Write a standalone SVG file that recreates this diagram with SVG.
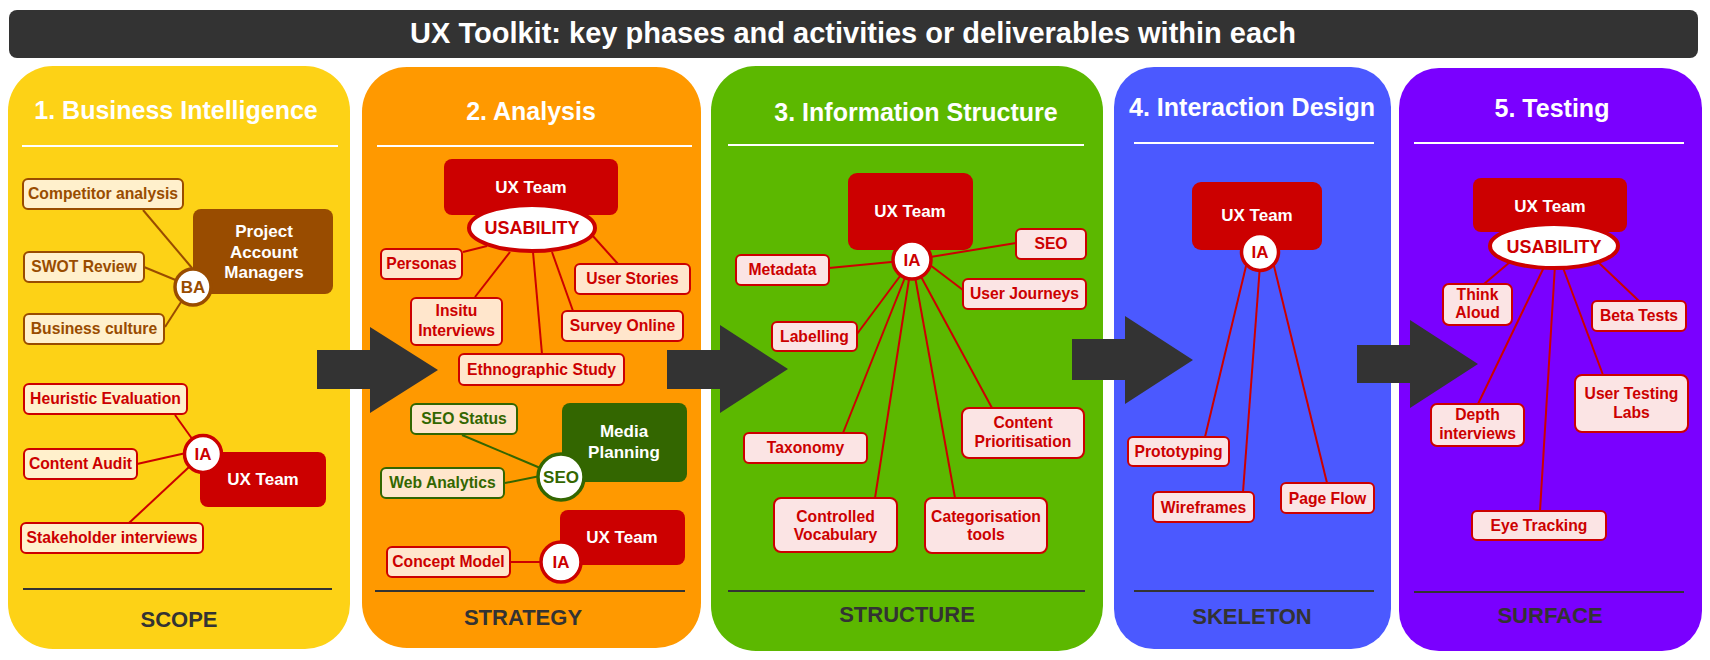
<svg xmlns="http://www.w3.org/2000/svg" width="1710" height="660" viewBox="0 0 1710 660">
<style>
text{font-family:"Liberation Sans",Arial,sans-serif;font-weight:bold;text-anchor:middle}
.ttl{fill:#fff;font-size:25px}
.foot{fill:#333;font-size:22px}
.sepw{stroke:#fff;stroke-width:2}
.sepd{stroke:#333;stroke-width:2}
.bx{font-size:15.7px}
.rb{fill:#FFF0CC;stroke:#CC0000;stroke-width:2}
.rbo{fill:#FFE6CC;stroke:#CC0000;stroke-width:2}
.rbp{fill:#FBE4E4;stroke:#CC0000;stroke-width:2}
.bb{fill:#FFF0CC;stroke:#994C00;stroke-width:2}
.gb{fill:#FFE6CC;stroke:#336600;stroke-width:2}
.rt{fill:#CC0000}
.bt{fill:#994C00}
.gt{fill:#336600}
.team{fill:#CC0000}
.wt{fill:#fff;font-size:17px}
.circ{fill:#fff;stroke-width:3.5}
.cr{stroke:#CC0000}
.cb{stroke:#994C00}
.cg{stroke:#336600}
.ln{stroke-width:2;fill:none}
.big{fill:#333}
</style>
<rect x="9" y="10" width="1689" height="48" rx="8" fill="#333"/>
<text x="853" y="43" style="fill:#fff;font-size:29px">UX Toolkit: key phases and activities or deliverables within each</text>

<g id="panel1">
<rect x="8" y="66" width="342" height="583" rx="45" fill="#FDD216"/>
<text class="ttl" x="176" y="119">1. Business Intelligence</text>
<line class="sepw" x1="22" y1="146" x2="338" y2="146"/>
<line class="sepd" x1="23" y1="589" x2="332" y2="589"/>
<text class="foot" x="179" y="627">SCOPE</text>
</g>
<g id="panel2">
<rect x="362" y="67" width="339" height="581" rx="45" fill="#FF9900"/>
<text class="ttl" x="531" y="120">2. Analysis</text>
<line class="sepw" x1="377" y1="146" x2="692" y2="146"/>
<line class="sepd" x1="375" y1="591" x2="685" y2="591"/>
<text class="foot" x="523" y="625">STRATEGY</text>
</g>
<g id="panel3">
<rect x="711" y="66" width="392" height="585" rx="45" fill="#5CB800"/>
<text class="ttl" x="916" y="121">3. Information Structure</text>
<line class="sepw" x1="728" y1="145" x2="1084" y2="145"/>
<line class="sepd" x1="728" y1="591" x2="1085" y2="591"/>
<text class="foot" x="907" y="622">STRUCTURE</text>
</g>
<g id="panel4">
<rect x="1114" y="67" width="277" height="582" rx="40" fill="#4B59FF"/>
<text class="ttl" x="1252" y="116">4. Interaction Design</text>
<line class="sepw" x1="1134" y1="143" x2="1374" y2="143"/>
<line class="sepd" x1="1134" y1="591" x2="1374" y2="591"/>
<text class="foot" x="1252" y="624">SKELETON</text>
</g>
<g id="panel5">
<rect x="1399" y="68" width="303" height="583" rx="40" fill="#7A00FF"/>
<text class="ttl" x="1552" y="117">5. Testing</text>
<line class="sepw" x1="1414" y1="143" x2="1684" y2="143"/>
<line class="sepd" x1="1414" y1="592" x2="1684" y2="592"/>
<text class="foot" x="1550" y="623">SURFACE</text>
</g>

<g id="phase-arrows">
<polygon class="big" points="317,350 370,350 370,327 438,370 370,413 370,389 317,389"/>
<polygon class="big" points="667,350 720,350 720,325 788,369 720,413 720,389 667,389"/>
<polygon class="big" points="1072,339 1125,339 1125,316 1193,360 1125,404 1125,380 1072,380"/>
<polygon class="big" points="1357,345 1410,345 1410,320 1478,364 1410,408 1410,383 1357,383"/>
</g>

<g id="connectors">
<g class="ln cb">
<line x1="143" y1="210" x2="192" y2="268"/>
<line x1="144" y1="267" x2="178" y2="281"/>
<line x1="165" y1="327" x2="183" y2="299"/>
</g>
<g class="ln cr">
<line x1="175" y1="415" x2="203" y2="454"/>
<line x1="137" y1="464" x2="186" y2="453"/>
<line x1="129" y1="523" x2="203" y2="454"/>
<line x1="463" y1="252" x2="487" y2="246"/>
<line x1="618" y1="264" x2="592" y2="235"/>
<line x1="475" y1="297" x2="510" y2="252"/>
<line x1="542" y1="354" x2="533" y2="252"/>
<line x1="573" y1="311" x2="552" y2="252"/>
<line x1="510" y1="562" x2="545" y2="562"/>
<line x1="829" y1="268" x2="912" y2="260"/>
<line x1="1016" y1="243" x2="912" y2="260"/>
<line x1="963" y1="290" x2="930" y2="265"/>
<line x1="857" y1="334" x2="912" y2="260"/>
<line x1="843" y1="433" x2="912" y2="260"/>
<line x1="875" y1="498" x2="912" y2="260"/>
<line x1="955" y1="498" x2="912" y2="260"/>
<line x1="992" y1="408" x2="912" y2="260"/>
<line x1="1205" y1="437" x2="1247" y2="262"/>
<line x1="1243" y1="492" x2="1260" y2="265"/>
<line x1="1327" y1="483" x2="1273" y2="262"/>
<line x1="1484" y1="284" x2="1510" y2="262"/>
<line x1="1639" y1="301" x2="1598" y2="262"/>
<line x1="1603" y1="375" x2="1562" y2="265"/>
<line x1="1478" y1="404" x2="1545" y2="265"/>
<line x1="1540" y1="511" x2="1555" y2="265"/>
</g>
<g class="ln cg">
<line x1="462" y1="435" x2="545" y2="470"/>
<line x1="505" y1="483" x2="545" y2="475"/>
</g>
</g>

<!-- Panel 1 nodes -->
<g id="p1-competitor"><rect class="bb" x="23" y="179" width="160" height="30" rx="5"/><text class="bx bt" x="103" y="199">Competitor analysis</text></g>
<g id="p1-swot"><rect class="bb" x="24" y="252" width="120" height="30" rx="5"/><text class="bx bt" x="84" y="272">SWOT Review</text></g>
<g id="p1-culture"><rect class="bb" x="24" y="314" width="140" height="30" rx="5"/><text class="bx bt" x="94" y="334">Business culture</text></g>
<g id="p1-pam"><rect x="193" y="209" width="140" height="85" rx="8" fill="#994C00"/><text class="wt" x="264" y="237">Project</text><text class="wt" x="264" y="258">Account</text><text class="wt" x="264" y="278">Managers</text></g>
<g id="p1-ba"><circle class="circ cb" cx="193" cy="287" r="18"/><text class="bt" x="193" y="293" style="font-size:17px">BA</text></g>
<g id="p1-heuristic"><rect class="rb" x="24" y="384" width="163" height="30" rx="5"/><text class="bx rt" x="105.5" y="404">Heuristic Evaluation</text></g>
<g id="p1-audit"><rect class="rb" x="24" y="449" width="113" height="30" rx="5"/><text class="bx rt" x="80.5" y="469">Content Audit</text></g>
<g id="p1-stakeholder"><rect class="rb" x="21" y="523" width="182" height="30" rx="5"/><text class="bx rt" x="112" y="543">Stakeholder interviews</text></g>
<g id="p1-uxteam"><rect class="team" x="200" y="452" width="126" height="55" rx="8"/><text class="wt" x="263" y="485">UX Team</text></g>
<g id="p1-ia"><circle class="circ cr" cx="203" cy="454" r="18.5"/><text class="rt" x="203" y="460" style="font-size:17px">IA</text></g>

<!-- Panel 2 nodes -->
<g id="p2-uxteam"><rect class="team" x="444" y="159" width="174" height="56" rx="8"/><text class="wt" x="531" y="193">UX Team</text></g>
<g id="p2-usability"><ellipse cx="532" cy="228" rx="63" ry="23" fill="#fff" stroke="#CC0000" stroke-width="4"/><text class="rt" x="532" y="234" style="font-size:18px">USABILITY</text></g>
<g id="p2-personas"><rect class="rbo" x="381" y="249" width="81" height="30" rx="5"/><text class="bx rt" x="421.5" y="269">Personas</text></g>
<g id="p2-stories"><rect class="rbo" x="575" y="264" width="115" height="30" rx="5"/><text class="bx rt" x="632.5" y="284">User Stories</text></g>
<g id="p2-insitu"><rect class="rbo" x="411" y="298" width="91" height="47" rx="5"/><text class="bx rt" x="456.5" y="316">Insitu</text><text class="bx rt" x="456.5" y="336">Interviews</text></g>
<g id="p2-survey"><rect class="rbo" x="562" y="311" width="121" height="30" rx="5"/><text class="bx rt" x="622.5" y="331">Survey Online</text></g>
<g id="p2-ethno"><rect class="rbo" x="459" y="354" width="165" height="31" rx="5"/><text class="bx rt" x="541.5" y="375">Ethnographic Study</text></g>
<g id="p2-seostatus"><rect class="gb" x="411" y="404" width="106" height="30" rx="5"/><text class="bx gt" x="464" y="424">SEO Status</text></g>
<g id="p2-webanalytics"><rect class="gb" x="381" y="468" width="123" height="30" rx="5"/><text class="bx gt" x="442.5" y="488">Web Analytics</text></g>
<g id="p2-media"><rect x="562" y="403" width="125" height="79" rx="8" fill="#336600"/><text class="wt" x="624" y="437">Media</text><text class="wt" x="624" y="458">Planning</text></g>
<g id="p2-seo"><circle class="circ cg" cx="561" cy="477" r="23" stroke-width="4"/><text class="gt" x="561" y="483" style="font-size:17px">SEO</text></g>
<g id="p2-concept"><rect class="rbo" x="387" y="547" width="123" height="30" rx="5"/><text class="bx rt" x="448.5" y="567">Concept Model</text></g>
<g id="p2-uxteam2"><rect class="team" x="560" y="510" width="125" height="55" rx="8"/><text class="wt" x="622" y="543">UX Team</text></g>
<g id="p2-ia"><circle class="circ cr" cx="561" cy="562" r="20"/><text class="rt" x="561" y="568" style="font-size:17px">IA</text></g>

<!-- Panel 3 nodes -->
<g id="p3-uxteam"><rect class="team" x="848" y="173" width="125" height="77" rx="9"/><text class="wt" x="910" y="217">UX Team</text></g>
<g id="p3-ia"><circle class="circ cr" cx="912" cy="260" r="19"/><text class="rt" x="912" y="266" style="font-size:17px">IA</text></g>
<g id="p3-metadata"><rect class="rbp" x="736" y="255" width="93" height="30" rx="5"/><text class="bx rt" x="782.5" y="275">Metadata</text></g>
<g id="p3-seo"><rect class="rbp" x="1016" y="229" width="70" height="30" rx="5"/><text class="bx rt" x="1051" y="249">SEO</text></g>
<g id="p3-journeys"><rect class="rbp" x="963" y="279" width="123" height="30" rx="5"/><text class="bx rt" x="1024.5" y="299">User Journeys</text></g>
<g id="p3-labelling"><rect class="rbp" x="772" y="322" width="85" height="29" rx="5"/><text class="bx rt" x="814.5" y="342">Labelling</text></g>
<g id="p3-taxonomy"><rect class="rbp" x="744" y="433" width="123" height="30" rx="5"/><text class="bx rt" x="805.5" y="453">Taxonomy</text></g>
<g id="p3-prioritisation"><rect class="rbp" x="962" y="408" width="122" height="50" rx="7"/><text class="bx rt" x="1023" y="428">Content</text><text class="bx rt" x="1023" y="447">Prioritisation</text></g>
<g id="p3-vocabulary"><rect class="rbp" x="774" y="498" width="123" height="54" rx="7"/><text class="bx rt" x="835.5" y="522">Controlled</text><text class="bx rt" x="835.5" y="540">Vocabulary</text></g>
<g id="p3-categorisation"><rect class="rbp" x="925" y="498" width="122" height="55" rx="7"/><text class="bx rt" x="986" y="522">Categorisation</text><text class="bx rt" x="986" y="540">tools</text></g>

<!-- Panel 4 nodes -->
<g id="p4-uxteam"><rect class="team" x="1192" y="182" width="130" height="68" rx="9"/><text class="wt" x="1257" y="221">UX Team</text></g>
<g id="p4-ia"><circle class="circ cr" cx="1260" cy="252" r="18.5"/><text class="rt" x="1260" y="258" style="font-size:17px">IA</text></g>
<g id="p4-prototyping"><rect class="rbp" x="1128" y="437" width="101" height="29" rx="5"/><text class="bx rt" x="1178.5" y="457">Prototyping</text></g>
<g id="p4-wireframes"><rect class="rbp" x="1153" y="492" width="101" height="30" rx="5"/><text class="bx rt" x="1203.5" y="513">Wireframes</text></g>
<g id="p4-pageflow"><rect class="rbp" x="1281" y="483" width="93" height="30" rx="5"/><text class="bx rt" x="1327.5" y="504">Page Flow</text></g>

<!-- Panel 5 nodes -->
<g id="p5-uxteam"><rect class="team" x="1473" y="178" width="154" height="54" rx="8"/><text class="wt" x="1550" y="212">UX Team</text></g>
<g id="p5-usability"><ellipse cx="1554" cy="246" rx="64" ry="22" fill="#fff" stroke="#CC0000" stroke-width="4"/><text class="rt" x="1554" y="253" style="font-size:18px">USABILITY</text></g>
<g id="p5-think"><rect class="rbp" x="1443" y="284" width="69" height="41" rx="6"/><text class="bx rt" x="1477.5" y="300">Think</text><text class="bx rt" x="1477.5" y="318">Aloud</text></g>
<g id="p5-beta"><rect class="rbp" x="1592" y="301" width="94" height="30" rx="5"/><text class="bx rt" x="1639" y="321">Beta Tests</text></g>
<g id="p5-labs"><rect class="rbp" x="1575" y="375" width="113" height="57" rx="7"/><text class="bx rt" x="1631.5" y="399">User Testing</text><text class="bx rt" x="1631.5" y="418">Labs</text></g>
<g id="p5-depth"><rect class="rbp" x="1431" y="404" width="93" height="42" rx="6"/><text class="bx rt" x="1477.5" y="420">Depth</text><text class="bx rt" x="1477.5" y="439">interviews</text></g>
<g id="p5-eye"><rect class="rbp" x="1472" y="511" width="134" height="29" rx="5"/><text class="bx rt" x="1539" y="531">Eye Tracking</text></g>
</svg>
